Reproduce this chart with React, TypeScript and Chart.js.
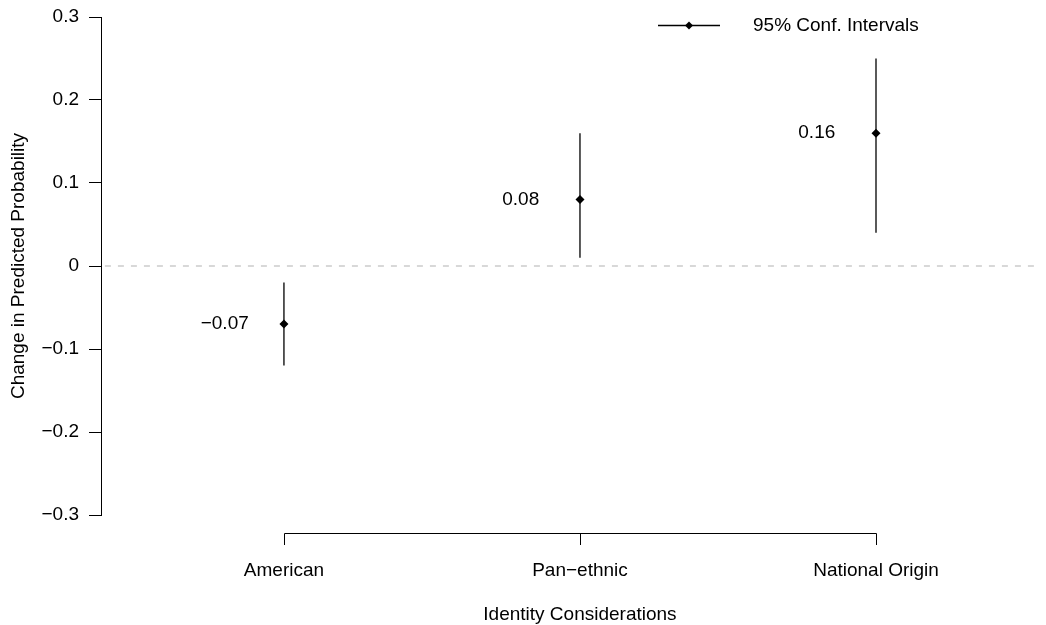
import React, { useEffect, useRef } from 'react';
import { Chart, registerables } from 'chart.js';

Chart.register(...registerables);

const categories = ['American', 'Pan\u2212ethnic', 'National Origin'];
const estimates = [-0.07, 0.08, 0.16];
const ciLower = [-0.12, 0.01, 0.04];
const ciUpper = [-0.02, 0.16, 0.25];
const yTicks = [-0.3, -0.2, -0.1, 0, 0.1, 0.2, 0.3];
const xTitle = 'Identity Considerations';
const yTitle = 'Change in Predicted Probability';
const legendLabel = '95% Conf. Intervals';

const FONT = '"Liberation Sans", Arial, Helvetica, sans-serif';
const FS = 19;

const fmt = (v: number, digits?: number) => {
  const s = digits === undefined ? String(Math.round(v * 10) / 10) : Math.abs(v).toFixed(digits);
  if (digits === undefined) {
    return v < 0 ? '\u2212' + s.replace('-', '') : s;
  }
  return v < 0 ? '\u2212' + s : s;
};

const rPlugin = {
  id: 'rStyle',
  afterDatasetsDraw(chart: any) {
    const { ctx, chartArea } = chart;
    const xs = chart.scales.x;
    const ys = chart.scales.y;
    ctx.save();
    // x axis line (R style, from first to last tick)
    const axisY = chartArea.bottom + 18;
    const x1 = xs.getPixelForValue(1);
    const x3 = xs.getPixelForValue(categories.length);
    ctx.strokeStyle = '#000';
    ctx.lineWidth = 1;
    ctx.beginPath();
    ctx.moveTo(Math.round(x1) + 0.5, axisY + 12);
    ctx.lineTo(Math.round(x1) + 0.5, axisY + 0.5);
    ctx.lineTo(Math.round(x3) + 0.5, axisY + 0.5);
    ctx.lineTo(Math.round(x3) + 0.5, axisY + 12);
    for (let i = 2; i < categories.length; i++) {
      const px = Math.round(xs.getPixelForValue(i)) + 0.5;
      ctx.moveTo(px, axisY);
      ctx.lineTo(px, axisY + 12);
    }
    ctx.stroke();

    // value labels
    ctx.fillStyle = '#000';
    ctx.font = `${FS}px ${FONT}`;
    ctx.textAlign = 'center';
    ctx.textBaseline = 'middle';
    estimates.forEach((v, i) => {
      ctx.fillText(fmt(v, 2), xs.getPixelForValue(i + 1 - 0.2), ys.getPixelForValue(v));
    });

    // x title
    ctx.fillText(xTitle, xs.getPixelForValue((1 + categories.length) / 2), 615);

    // legend
    const ly = 25.5;
    ctx.beginPath();
    ctx.moveTo(658, ly);
    ctx.lineTo(720, ly);
    ctx.lineWidth = 1.3;
    ctx.stroke();
    ctx.beginPath();
    const cx = 689, r = 4;
    ctx.moveTo(cx, ly - r);
    ctx.lineTo(cx + r, ly);
    ctx.lineTo(cx, ly + r);
    ctx.lineTo(cx - r, ly);
    ctx.closePath();
    ctx.fill();
    ctx.textAlign = 'left';
    ctx.fillText(legendLabel, 753, 26);
    ctx.restore();
  },
};

export default function App() {
  const ref = useRef<HTMLCanvasElement>(null);
  useEffect(() => {
    if (!ref.current) return;
    Chart.defaults.font.family = FONT;
    Chart.defaults.color = '#000';
    const datasets: any[] = [
      {
        type: 'line',
        data: [{ x: 0, y: 0 }, { x: 10, y: 0 }],
        borderColor: '#cccccc',
        borderWidth: 1.3,
        borderDash: [6, 7],
        pointRadius: 0,
        showLine: true,
      },
      ...categories.map((_, i) => ({
        type: 'line',
        data: [
          { x: i + 1, y: ciLower[i] },
          { x: i + 1, y: ciUpper[i] },
        ],
        borderColor: '#000',
        borderWidth: 1.3,
        pointRadius: 0,
        showLine: true,
      })),
      {
        type: 'scatter',
        data: estimates.map((v, i) => ({ x: i + 1, y: v })),
        pointStyle: 'rectRot',
        pointRadius: 4.5,
        backgroundColor: '#000',
        borderColor: '#000',
        borderWidth: 0,
      },
    ];
    const chart = new Chart(ref.current, {
      type: 'scatter',
      data: { datasets },
      plugins: [rPlugin],
      options: {
        animation: false,
        responsive: false,
        events: [],
        layout: { padding: { top: 17, right: 6, left: 0, bottom: 0 } },
        plugins: { legend: { display: false }, tooltip: { enabled: false } },
        scales: {
          x: {
            type: 'linear',
            min: 0.382,
            max: 3.554,
            afterBuildTicks: (s: any) => {
              s.ticks = categories.map((_, i) => ({ value: i + 1 }));
            },
            afterFit: (s: any) => {
              s.height = 110;
              s.paddingLeft = 0;
              s.paddingRight = 0;
            },
            grid: { display: false, drawTicks: false },
            border: { display: false },
            ticks: {
              autoSkip: false,
              maxRotation: 0,
              padding: 44,
              font: { size: FS },
              color: '#000',
              callback: (v: any) => categories[Math.round(v) - 1] ?? '',
            },
          },
          y: {
            type: 'linear',
            min: -0.3,
            max: 0.3,
            afterBuildTicks: (s: any) => {
              s.ticks = yTicks.map((v) => ({ value: v }));
            },
            afterFit: (s: any) => {
              s.width = 101;
              s.paddingTop = 0;
              s.paddingBottom = 0;
            },
            grid: { drawOnChartArea: false, drawTicks: true, tickLength: 12, color: '#000', tickWidth: 1 },
            border: { display: true, color: '#000', width: 1 },
            ticks: {
              padding: 10,
              font: { size: FS },
              color: '#000',
              callback: (v: any) => fmt(Number(v)),
            },
            title: {
              display: true,
              text: yTitle,
              font: { size: FS },
              color: '#000',
              padding: { top: 7, bottom: 0 },
            },
          },
        },
      },
    });
    return () => chart.destroy();
  }, []);
  return (
    <div style={{ position: 'fixed', left: 0, top: 0, width: 1046, height: 625, background: '#fff' }}>
      <canvas ref={ref} width={1046} height={625} style={{ width: 1046, height: 625 }} />
    </div>
  );
}
